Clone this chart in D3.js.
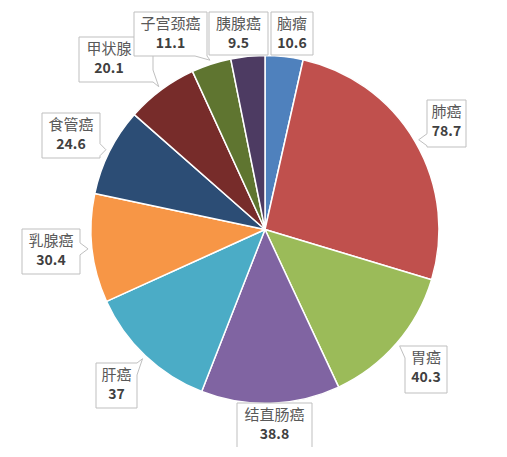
<!DOCTYPE html>
<html>
<head>
<meta charset="utf-8">
<script src="https://cdn.jsdelivr.net/npm/d3@7"></script>
<style>
  body { margin: 0; background: #fff; }
  text { font-family: "Noto Sans CJK SC", "Noto Sans", sans-serif; }
</style>
</head>
<body>
<div id="chart"></div>
<script>
// data
var names  = ["脑瘤", "肺癌", "胃癌", "结直肠癌", "肝癌", "乳腺癌", "食管癌", "甲状腺", "子宫颈癌", "胰腺癌"];
var values = [10.6, 78.7, 40.3, 38.8, 37, 30.4, 24.6, 20.1, 11.1, 9.5];
var colors = ["#4f81bd", "#c0504d", "#9bbb59", "#8064a2", "#4bacc6",
              "#f79646", "#2c4d75", "#772c2a", "#5f7530", "#4d3b62"];

// callout boxes (x0, y0, x1, y1) and text centre, placed like the original
var boxes = [
  [271, 12, 313, 55], [427, 100, 466, 147], [405, 346, 447, 393], [237, 403, 312, 470],
  [96, 363, 137, 408], [22, 229, 80, 274], [42, 113, 100, 158], [79, 37, 153, 82],
  [134, 12, 207, 56], [209, 12, 268, 55]
];
var textX = [292, 446.5, 426, 274.5, 116.5, 51, 71, 109, 170.5, 238.5];

function main() {
  var width = 507, height = 457;
  var cx = 265, cy = 229.5, r = 174;

  var svg = d3.select("#chart").append("svg")
    .attr("width", width)
    .attr("height", height);

  svg.append("clipPath").attr("id", "clip")
    .append("rect").attr("width", width).attr("height", 447);

  var g = svg.append("g").attr("clip-path", "url(#clip)");

  var pie = d3.pie().sort(null).value(function(d) { return d; });
  var arcs = pie(values);
  var arc = d3.arc().innerRadius(0).outerRadius(r);

  var pieG = g.append("g").attr("transform", "translate(" + cx + "," + cy + ")");
  pieG.selectAll("path")
    .data(arcs)
    .enter().append("path")
    .attr("d", arc)
    .attr("fill", function(d, i) { return colors[i]; })
    .attr("stroke", "#fff")
    .attr("stroke-width", 1.5)
    .attr("stroke-linejoin", "round");

  // box with a wedge pointing to (tx, ty)
  function callout(b, tx, ty) {
    var x0 = b[0], y0 = b[1], x1 = b[2], y1 = b[3], w = 12;
    var dxo = tx < x0 ? x0 - tx : (tx > x1 ? tx - x1 : 0);
    var dyo = ty < y0 ? y0 - ty : (ty > y1 ? ty - y1 : 0);
    var p = d3.path();
    p.moveTo(x0, y0);
    if (dxo === 0 && dyo === 0) {
      p.lineTo(x1, y0); p.lineTo(x1, y1); p.lineTo(x0, y1); p.closePath();
      return p.toString();
    }
    var vert = dyo >= dxo;
    var bx = Math.max(x0, Math.min(tx - w / 2, x1 - w));
    var by = Math.max(y0, Math.min(ty - w / 2, y1 - w));
    // top edge
    if (vert && ty < y0) { p.lineTo(bx, y0); p.lineTo(tx, ty); p.lineTo(bx + w, y0); }
    p.lineTo(x1, y0);
    // right edge
    if (!vert && tx > x1) { p.lineTo(x1, by); p.lineTo(tx, ty); p.lineTo(x1, by + w); }
    p.lineTo(x1, y1);
    // bottom edge
    if (vert && ty > y1) { p.lineTo(bx + w, y1); p.lineTo(tx, ty); p.lineTo(bx, y1); }
    p.lineTo(x0, y1);
    // left edge
    if (!vert && tx < x0) { p.lineTo(x0, by + w); p.lineTo(tx, ty); p.lineTo(x0, by); }
    p.closePath();
    return p.toString();
  }

  var tipArc = d3.arc().innerRadius(178).outerRadius(178);

  var labels = g.selectAll("g.lab")
    .data(arcs)
    .enter().append("g")
    .attr("class", "lab");

  labels.append("path")
    .attr("d", function(d, i) {
      var a = (d.startAngle + d.endAngle) / 2;
      var tx = cx + 178 * Math.sin(a), ty = cy - 178 * Math.cos(a);
      return callout(boxes[i], tx, ty);
    })
    .attr("fill", "#fff")
    .attr("stroke", "#bfbfbf")
    .attr("stroke-width", 1);

  labels.append("text")
    .attr("x", function(d, i) { return textX[i]; })
    .attr("y", function(d, i) { return boxes[i][1] + 16.5; })
    .attr("text-anchor", "middle")
    .attr("font-size", 15)
    .attr("fill", "#595959")
    .text(function(d, i) { return names[i]; });

  labels.append("text")
    .attr("x", function(d, i) { return textX[i]; })
    .attr("y", function(d, i) { return boxes[i][1] + 35.5; })
    .attr("text-anchor", "middle")
    .attr("font-size", 14)
    .attr("font-weight", "bold")
    .attr("fill", "#404040")
    .text(function(d, i) { return values[i]; });
}

main();
</script>
</body>
</html>
